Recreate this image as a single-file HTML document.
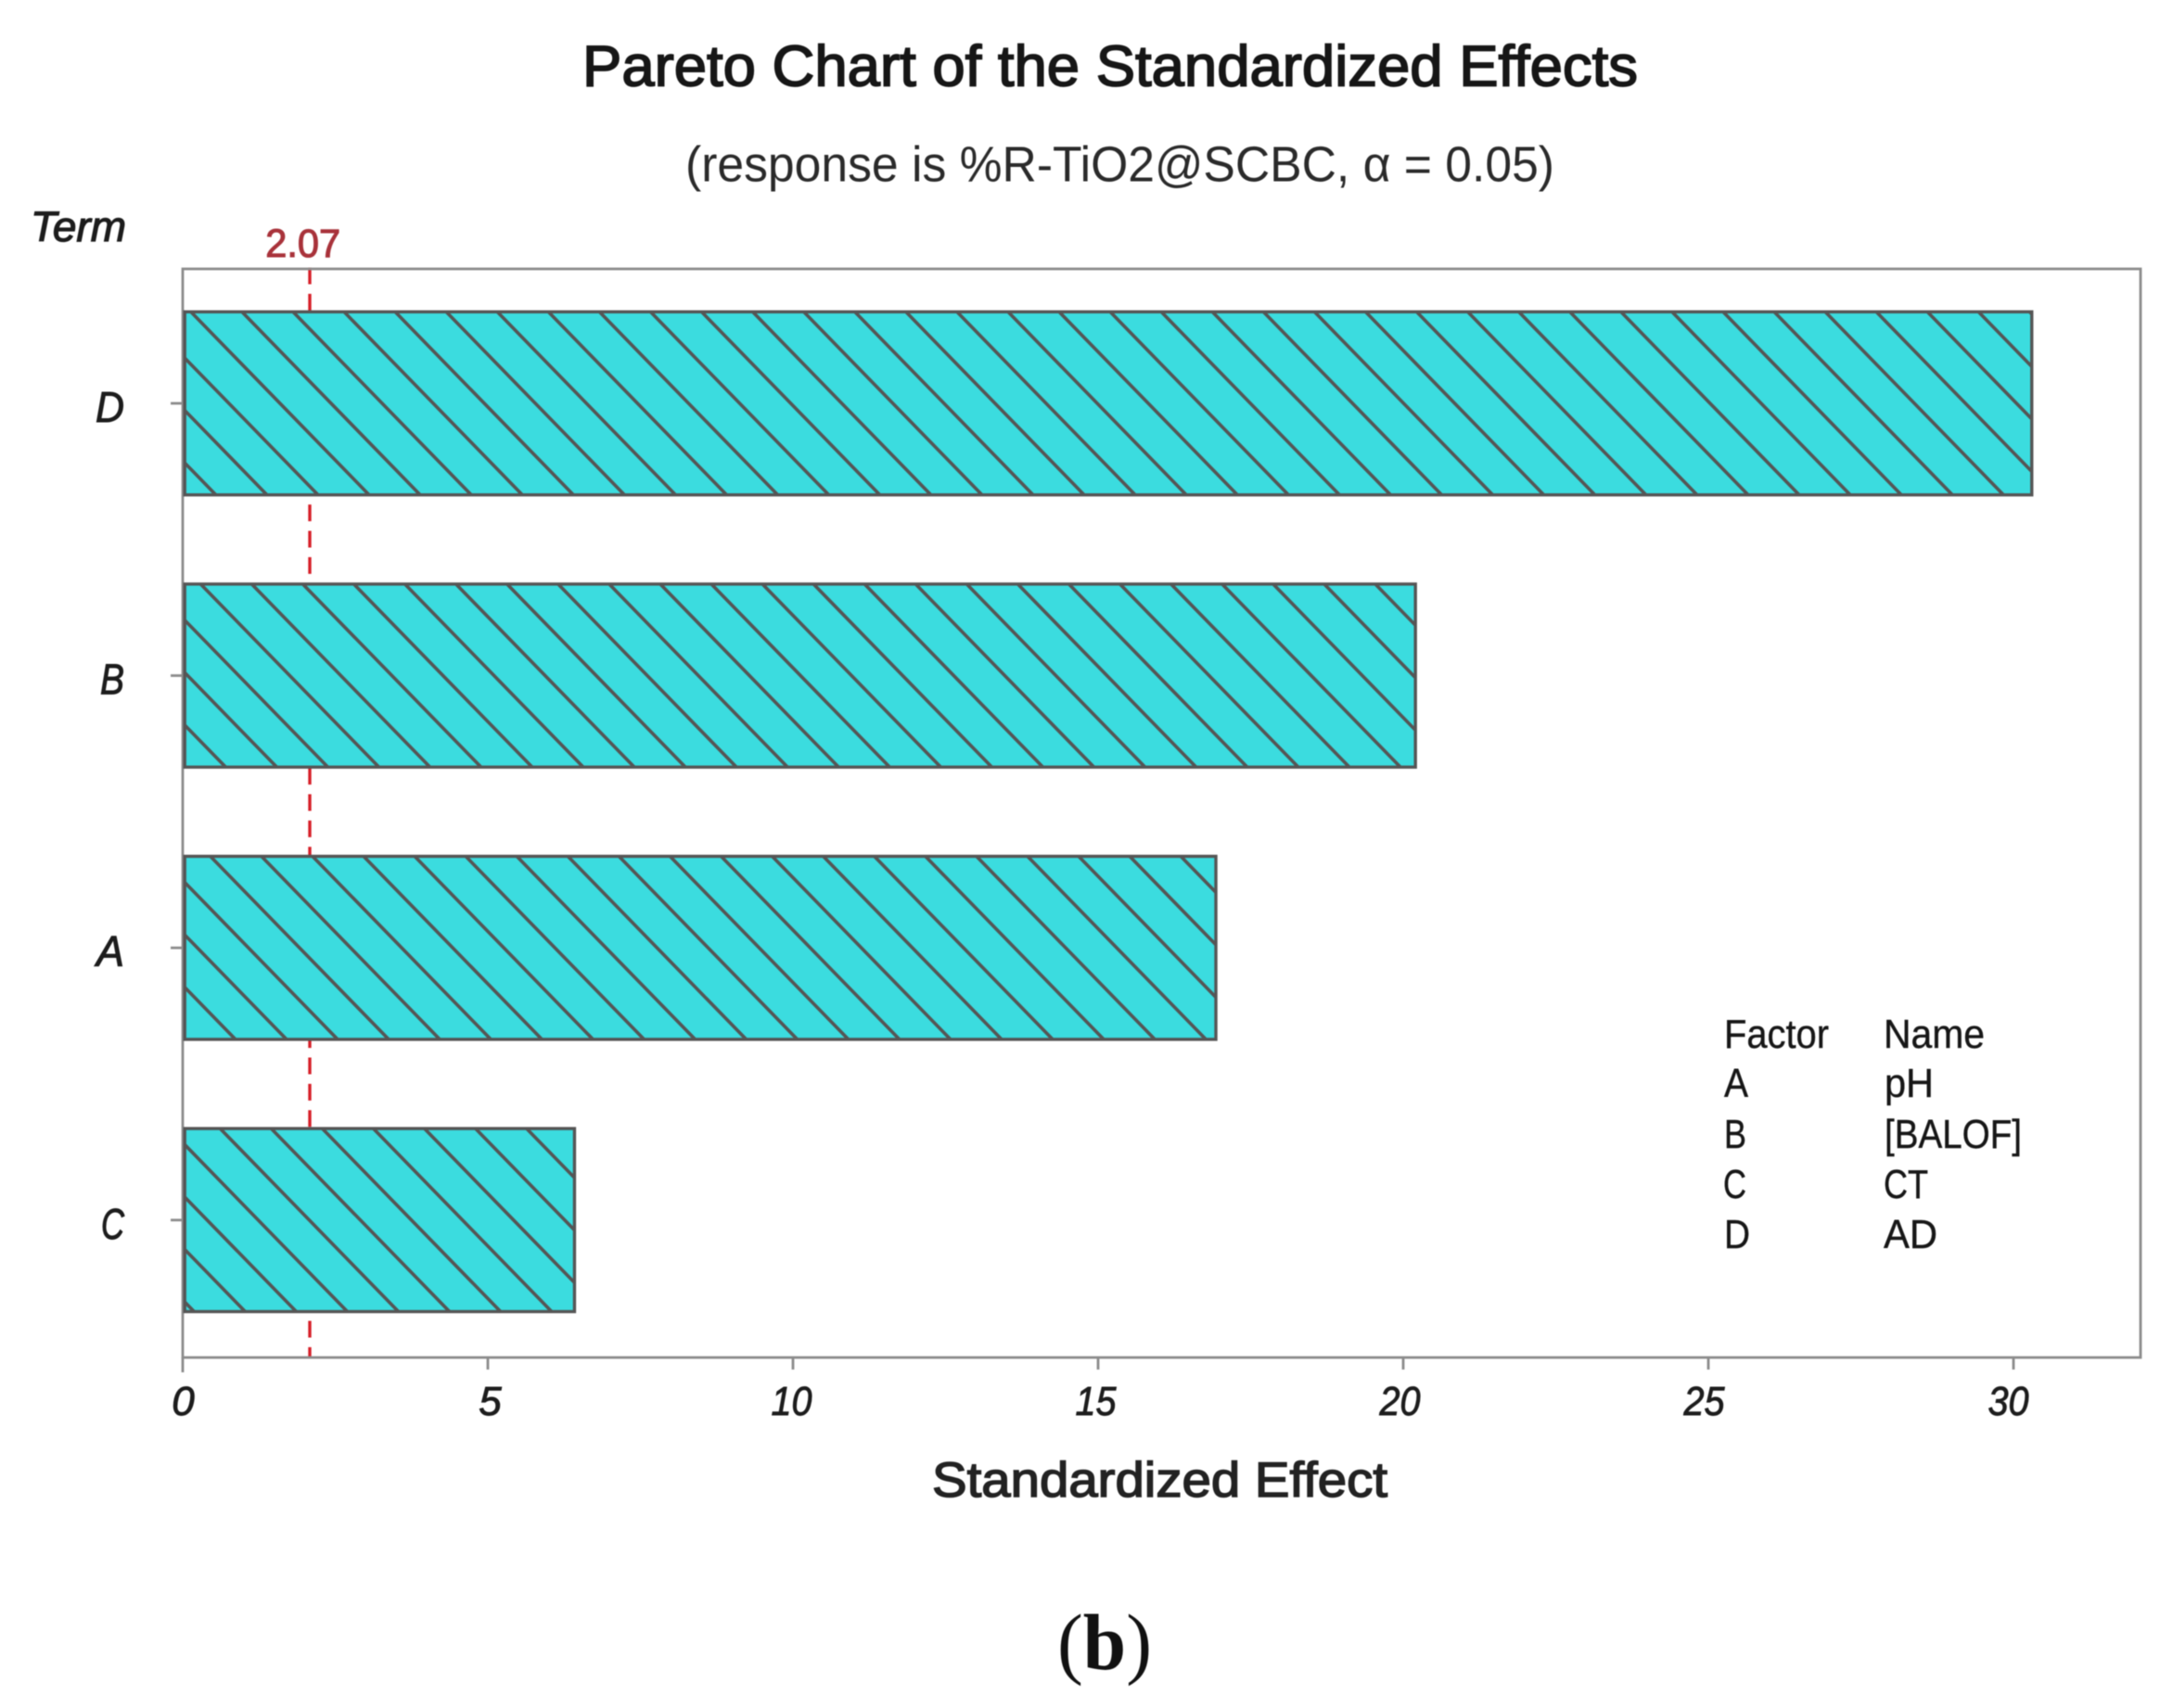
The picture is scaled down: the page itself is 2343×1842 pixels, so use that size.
<!DOCTYPE html>
<html lang="en">
<head>
<meta charset="utf-8">
<title>Pareto Chart of the Standardized Effects</title>
<style>
  html, body { margin: 0; padding: 0; background: #ffffff; }
  body { width: 2343px; height: 1842px; overflow: hidden; }
  svg { display: block; filter: blur(0.55px); }
  text { font-family: "Liberation Sans", sans-serif; }
</style>
</head>
<body>
<svg id="chart" xmlns="http://www.w3.org/2000/svg" width="2343" height="1842" viewBox="0 0 2343 1842">
  <rect x="0" y="0" width="2343" height="1842" fill="#ffffff"/>

  <text x="628" y="92.5" font-size="62" fill="#161616" stroke="#161616" stroke-width="1.7" textLength="1138" lengthAdjust="spacingAndGlyphs">Pareto Chart of the Standardized Effects</text>
  <text x="739" y="195.5" font-size="54" fill="#2a2a2a" textLength="937" lengthAdjust="spacingAndGlyphs">(response is %R-TiO2@SCBC, α = 0.05)</text>
  <text x="33" y="260" font-size="45" font-style="italic" fill="#1c1c1c" stroke="#1c1c1c" stroke-width="1.2" textLength="103" lengthAdjust="spacingAndGlyphs">Term</text>

  <g id="reference-layer"></g>
  <rect x="197" y="290" width="2111" height="1174" fill="none" stroke="#8c8c8c" stroke-width="2.8"/>
  <g id="axis-layer"></g>
  <g id="bar-layer"></g>

  <g font-size="44" fill="#161616" stroke="#161616" stroke-width="0.4">
    <text x="1859" y="1130" textLength="113" lengthAdjust="spacingAndGlyphs">Factor</text>
    <text x="2031" y="1130" textLength="109" lengthAdjust="spacingAndGlyphs">Name</text>
    <text x="1859" y="1183" textLength="26" lengthAdjust="spacingAndGlyphs">A</text>
    <text x="2032" y="1183" textLength="53" lengthAdjust="spacingAndGlyphs">pH</text>
    <text x="1859" y="1238" textLength="24" lengthAdjust="spacingAndGlyphs">B</text>
    <text x="2032" y="1238" textLength="148" lengthAdjust="spacingAndGlyphs">[BALOF]</text>
    <text x="1858" y="1292" textLength="25" lengthAdjust="spacingAndGlyphs">C</text>
    <text x="2031" y="1292" textLength="48" lengthAdjust="spacingAndGlyphs">CT</text>
    <text x="1859" y="1346" textLength="28" lengthAdjust="spacingAndGlyphs">D</text>
    <text x="2031" y="1346" textLength="58" lengthAdjust="spacingAndGlyphs">AD</text>
  </g>

  <text x="1005" y="1614" font-size="53" fill="#222222" stroke="#222222" stroke-width="1.5" textLength="491" lengthAdjust="spacingAndGlyphs">Standardized Effect</text>
  <text x="1140" y="1800" font-size="86" fill="#111111" style="font-family:'Liberation Serif',serif" textLength="102" lengthAdjust="spacingAndGlyphs">(<tspan font-weight="700">b</tspan>)</text>
</svg>

<script>
const categories = ["D", "B", "A", "C"];
const effects = [30.3, 20.2, 16.93, 6.42];
const xTickValues = [0, 5, 10, 15, 20, 25, 30];
const criticalValue = 2.07;

const SVG_NS = "http://www.w3.org/2000/svg";
const PLOT_LEFT = 197, PLOT_TOP = 290, PLOT_BOTTOM = 1464;
const PX_PER_UNIT = 65.8, FIRST_BAND = 435, BAND_STEP = 293.6, BAR_HALF = 98.7;
const HATCH_STEP = 55.07, HATCH_SLOPE = 1.027, HATCH_X0 = 205.5, HATCH_Y0 = 336;
const DARK = "#555555", AXIS = "#8c8c8c", FILL = "#3bdcdf";
const LABEL_FIT = { D: 31, B: 26, A: 30, C: 25 };

function xScale(v) { return PLOT_LEFT + v * PX_PER_UNIT; }
function yScale(i) { return FIRST_BAND + i * BAND_STEP; }

function make(tag, attrs, parent) {
  const el = document.createElementNS(SVG_NS, tag);
  for (const k in attrs) el.setAttribute(k, attrs[k]);
  parent.appendChild(el);
  return el;
}

const refLayer = document.getElementById("reference-layer");
const axisLayer = document.getElementById("axis-layer");
const barLayer = document.getElementById("bar-layer");

const refLine = make("line", {
  x1: xScale(criticalValue) + 0.8, x2: xScale(criticalValue) + 0.8, y1: PLOT_TOP - 1.5, y2: PLOT_BOTTOM,
  stroke: "#d61f28", "stroke-width": 3.4, "stroke-dasharray": "18 10.4"
}, refLayer);



const refLabel = make("text", {
  x: xScale(criticalValue) - 6.5, y: 277, "font-size": 43, fill: "#a8323a",
  "text-anchor": "middle", textLength: 81, lengthAdjust: "spacingAndGlyphs",
  stroke: "#a8323a", "stroke-width": 1.1
}, refLayer);
refLabel.textContent = criticalValue.toFixed(2);



xTickValues.forEach(function (v) {
  const tick = make("line", {
    x1: xScale(v), x2: xScale(v), y1: PLOT_BOTTOM, y2: v === 0 ? 1480 : 1477,
    stroke: AXIS, "stroke-width": 2.8
  }, axisLayer);
  
  

  const text = String(v);
  const attrs = {
    x: xScale(v) + 0.5 - 0.2 * v + (v === 5 ? 3 : 0), y: 1526, "font-size": 44, "font-style": "italic",
    "text-anchor": "middle", fill: "#1c1c1c", stroke: "#1c1c1c", "stroke-width": 0.9
  };
  if (text.length > 1) {
    attrs.textLength = 44;
    attrs.lengthAdjust = "spacingAndGlyphs";
  }
  const label = make("text", attrs, axisLayer);
  label.textContent = text;
  
  
});

categories.forEach(function (cat, i) {
  const cy = yScale(i);
  const tick = make("line", {
    x1: 184, x2: PLOT_LEFT, y1: cy, y2: cy, stroke: AXIS, "stroke-width": 2.8
  }, axisLayer);
  
  

  const label = make("text", {
    x: 134, y: cy + 20, "font-size": 46, "font-style": "italic",
    "text-anchor": "end", fill: "#1c1c1c", stroke: "#1c1c1c", "stroke-width": 1,
    textLength: LABEL_FIT[cat], lengthAdjust: "spacingAndGlyphs"
  }, axisLayer);
  label.textContent = cat;
  
  
});

categories.forEach(function (cat, i) {
  const left = PLOT_LEFT + 2.2;
  const right = xScale(effects[i]);
  const top = yScale(i) - BAR_HALF;
  const bottom = yScale(i) + BAR_HALF;

  const group = make("g", {}, barLayer);
  
  

  const fill = make("rect", {
    x: left, y: top, width: right - left, height: bottom - top, fill: FILL
  }, group);
  
  

  const hatch = make("g", { stroke: DARK, "stroke-width": 3.6 }, group);
  
  

  for (let k = -60; k < 60; k++) {
    const atY0 = HATCH_X0 + k * HATCH_STEP;
    let x1 = atY0 + (top - HATCH_Y0) / HATCH_SLOPE, y1 = top;
    let x2 = atY0 + (bottom - HATCH_Y0) / HATCH_SLOPE, y2 = bottom;
    if (x2 <= left || x1 >= right) continue;
    if (x1 < left) { y1 = top + (left - x1) * HATCH_SLOPE; x1 = left; }
    if (x2 > right) { y2 = bottom - (x2 - right) * HATCH_SLOPE; x2 = right; }
    make("line", { x1: x1, y1: y1, x2: x2, y2: y2 }, hatch);
  }

  const outline = make("rect", {
    x: left, y: top, width: right - left, height: bottom - top,
    fill: "none", stroke: DARK, "stroke-width": 3.4
  }, group);
  
  
});
</script>
</body>
</html>
